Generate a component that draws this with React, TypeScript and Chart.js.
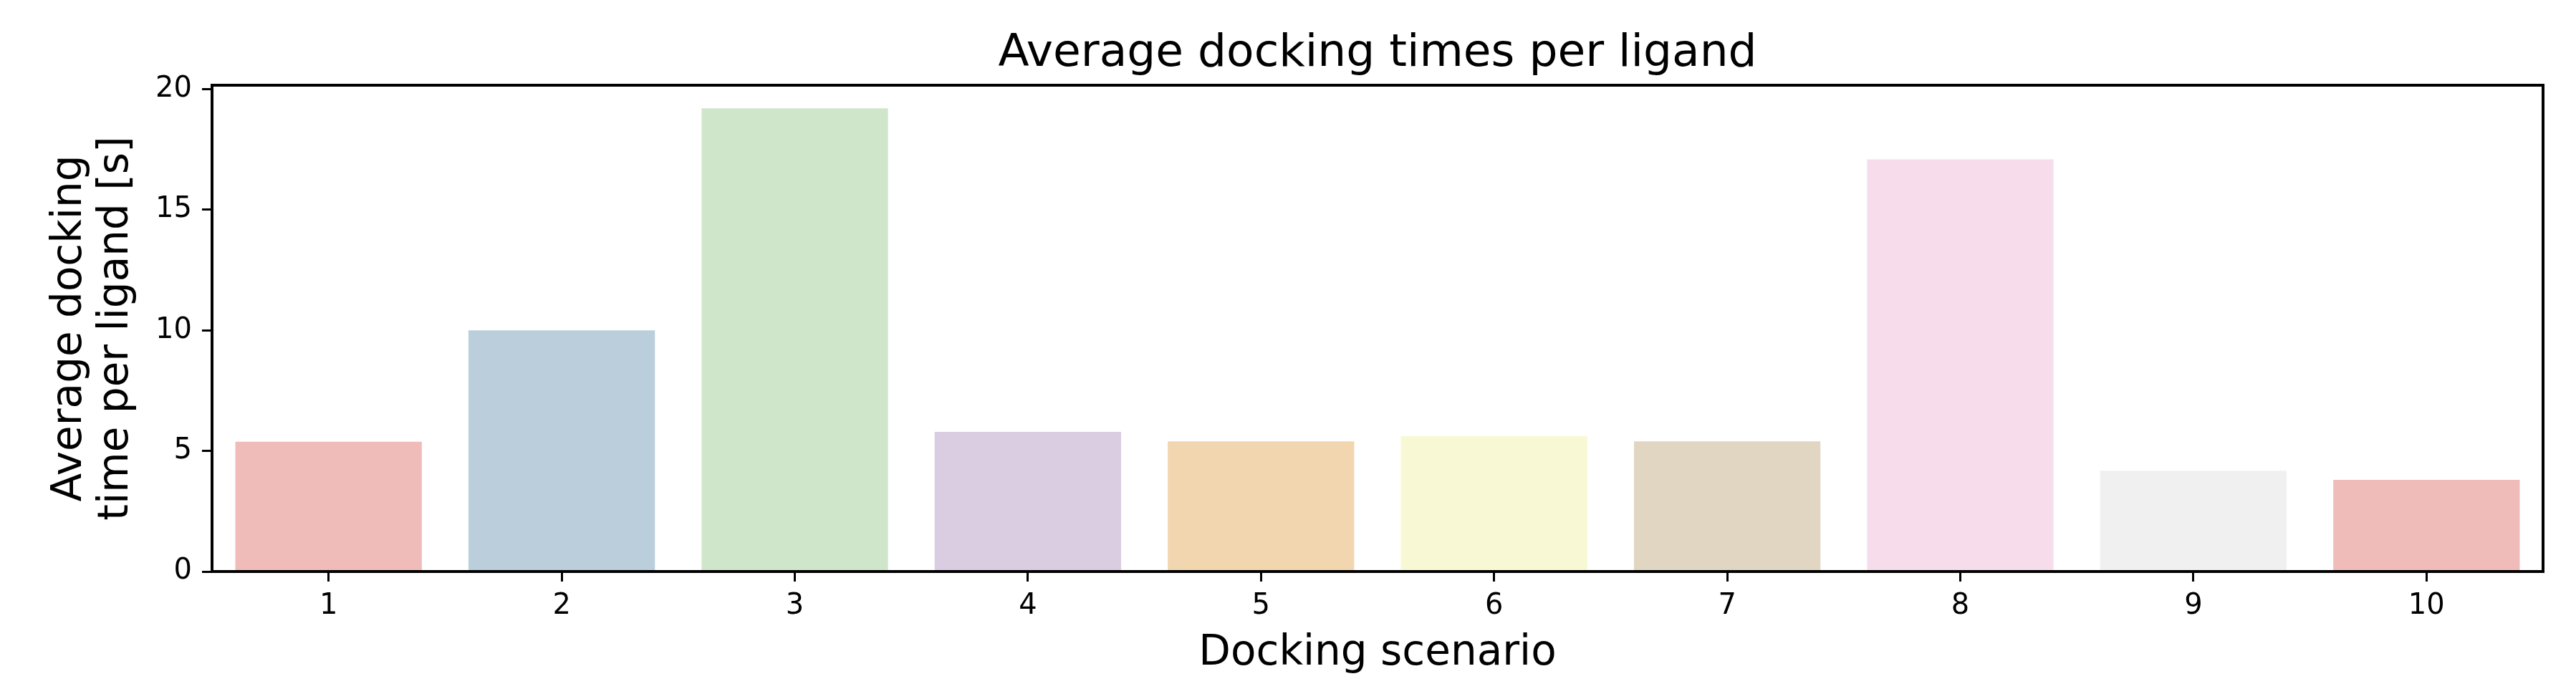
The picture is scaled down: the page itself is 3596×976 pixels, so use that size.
import React, { useEffect, useRef } from "react";
import { Chart, registerables } from "chart.js";

Chart.register(...registerables);

const categories = ["1", "2", "3", "4", "5", "6", "7", "8", "9", "10"];
const avgTimes = [5.38, 10.0, 19.2, 5.79, 5.4, 5.61, 5.4, 17.09, 4.18, 3.8];
const barColors = [
  "#F0BCB9",
  "#BBCEDC",
  "#D0E6CA",
  "#DACDE1",
  "#F2D6B0",
  "#F8F9D4",
  "#E0D6C2",
  "#F7DDEB",
  "#F0F0F0",
  "#F0BCB9",
];
const yTickValues = [0, 5, 10, 15, 20];
const titleText = "Average docking times per ligand";
const xLabel = "Docking scenario";
const yLabel = ["Average docking", "time per ligand [s]"];

const FONT = "'DejaVu Sans', 'Liberation Sans', sans-serif";

const framePlugin = {
  id: "frameAndTitle",
  afterDatasetsDraw(chart: any) {
    const { ctx, chartArea } = chart;
    const { left, right, top, bottom } = chartArea;
    ctx.save();
    ctx.strokeStyle = "#000";
    ctx.lineWidth = 4;
    ctx.strokeRect(left, top, right - left, bottom - top);
    ctx.fillStyle = "#000";
    ctx.font = `63px ${FONT}`;
    ctx.textAlign = "center";
    ctx.textBaseline = "middle";
    ctx.fillText(titleText, (left + right) / 2, 76);
    ctx.restore();
  },
};

export default function App() {
  const canvasRef = useRef<HTMLCanvasElement | null>(null);

  useEffect(() => {
    if (!canvasRef.current) return;
    const chart = new Chart(canvasRef.current, {
      type: "bar",
      data: {
        labels: categories,
        datasets: [
          {
            data: avgTimes,
            backgroundColor: barColors,
            borderWidth: 0,
            barPercentage: 0.8,
            categoryPercentage: 1.0,
          },
        ],
      },
      options: {
        responsive: false,
        animation: false,
        devicePixelRatio: 1,
        layout: { padding: { left: 0, right: 46, top: 119, bottom: 0 } },
        plugins: {
          legend: { display: false },
          title: { display: false },
          tooltip: { enabled: false },
        },
        scales: {
          x: {
            type: "category",
            afterFit(s: any) {
              s.height = 178;
            },
            grid: {
              offset: false,
              drawOnChartArea: false,
              drawTicks: true,
              tickLength: 14,
              tickWidth: 3,
              tickColor: "#000",
            },
            border: { display: false },
            ticks: {
              color: "#000",
              font: { family: FONT, size: 40 },
              padding: 11,
              maxRotation: 0,
            },
            title: {
              display: true,
              text: xLabel,
              color: "#000",
              font: { family: FONT, size: 58, lineHeight: 1.13 },
              padding: { top: 0, bottom: 30 },
            },
          },
          y: {
            type: "linear",
            min: 0,
            max: 20.16,
            afterFit(s: any) {
              s.width = 296;
            },
            afterBuildTicks(s: any) {
              s.ticks = yTickValues.map((v) => ({ value: v }));
            },
            grid: {
              drawOnChartArea: false,
              drawTicks: true,
              tickLength: 14,
              tickWidth: 3,
              tickColor: "#000",
            },
            border: { display: false },
            ticks: {
              color: "#000",
              font: { family: FONT, size: 40 },
              padding: 14,
              stepSize: 5,
              includeBounds: false,
            },
            title: {
              display: true,
              text: yLabel,
              color: "#000",
              font: { family: FONT, size: 58, lineHeight: 1.12 },
              padding: { top: 65, bottom: 0 },
            },
          },
        },
      },
      plugins: [framePlugin],
    });
    return () => chart.destroy();
  }, []);

  return (
    <div
      style={{
        position: "fixed",
        left: 0,
        top: 0,
        width: 3596,
        height: 976,
        background: "#fff",
      }}
    >
      <canvas ref={canvasRef} width={3596} height={976} />
    </div>
  );
}
